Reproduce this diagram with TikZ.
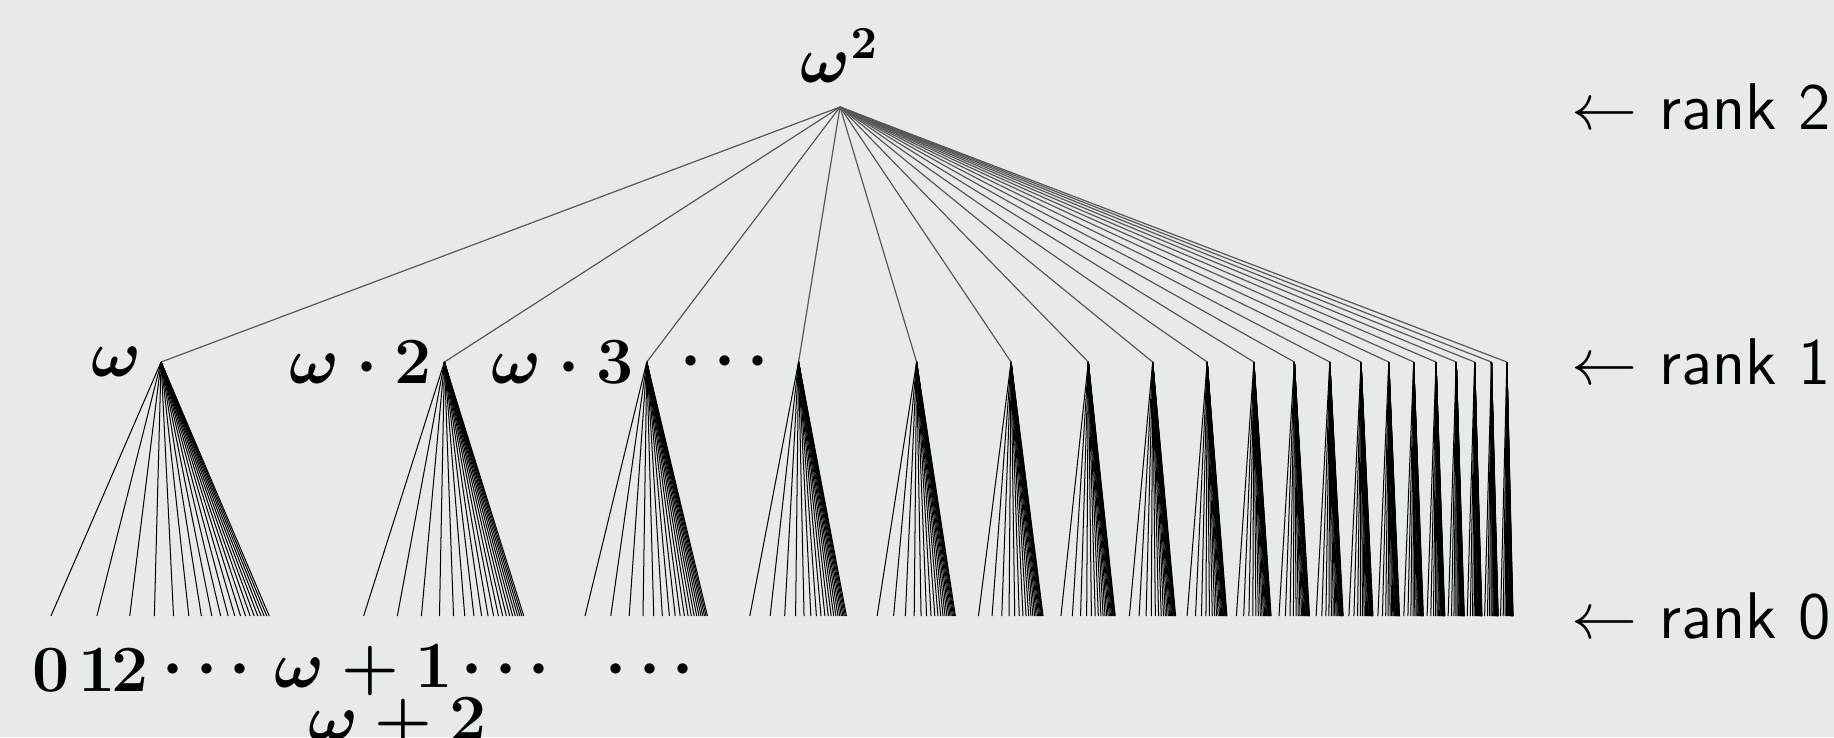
\documentclass[tikz,border=0pt]{standalone}
\usepackage{amsmath}
\usetikzlibrary{calc}
\definecolor{bgc}{RGB}{230,234,233}
\definecolor{edgegray}{RGB}{88,88,88}
\tikzset{
  rootedge/.style={draw=edgegray, line width=0.26pt},
  leafedge/.style={draw=black, line width=0.22pt},
  lab/.style={inner sep=0pt, font=\boldmath\fontsize{14.4}{17}\selectfont},
  ranklab/.style={inner sep=0pt, anchor=west, font=\sffamily\fontsize{14.4}{17}\selectfont},
}
\begin{document}
\begin{tikzpicture}[x=0.218pt,y=-0.218pt]
\fill[bgc] (0,0) rectangle (1834,737);
\useasboundingbox (0,0) rectangle (1834,737);
\coordinate (r) at (840,107);
\node[lab, anchor=base] (top) at (840,82) {$\omega^2$};
\foreach \n in {1,...,20}{
  \pgfmathsetmacro{\px}{1861-8499.6/(\n+4)}
  \pgfmathsetmacro{\sc}{5.8/((\n+4.5)*(\n+5.5))}
  \coordinate (a\n) at (\px,362);
  \draw[rootedge] (r) -- (a\n);
  \foreach \k in {1,...,20}{
    \pgfmathsetmacro{\cx}{\px+\sc*(1861-8499.6/(\k+4)-840)}
    \coordinate (b\n-\k) at (\cx,616);
    \draw[leafedge] (a\n) -- (b\n-\k);
  }
}
% rank-1 labels
\node[lab, anchor=east] (l1) at ($(a1)+(-19,0)$) {$\omega$};
\node[lab, anchor=east] (l2) at ($(a2)+(-12,0)$) {$\omega\cdot 2$};
\node[lab, anchor=east] (l3) at ($(a3)+(-12,0)$) {$\omega\cdot 3$};
\node[lab, anchor=east] (l4) at ($(a4)+(-16,0)$) {$\cdots$};
% rank-0 labels
\node[lab] (m0) at ($(b1-1)+(0,54)$) {$0$};
\node[lab] (m1) at ($(b1-2)+(0,54)$) {$1$};
\node[lab] (m2) at ($(b1-3)+(0,54)$) {$2$};
\node[lab] (md1) at (213,670) {$\cdots$};
\node[lab] (mw1) at ($(b2-1)+(0,54)$) {$\omega+1$};
\node[lab] (mw2) at ($(b2-2)+(0,107)$) {$\omega+2$};
\node[lab] (md2) at (512,670) {$\cdots$};
\node[lab] (md3) at (656,670) {$\cdots$};
% rank labels
\node[ranklab] (rk2) at (1571,107) {$\leftarrow$ rank 2};
\node[ranklab] (rk1) at (1571,362) {$\leftarrow$ rank 1};
\node[ranklab] (rk0) at (1571,616) {$\leftarrow$ rank 0};
\end{tikzpicture}
\end{document}
